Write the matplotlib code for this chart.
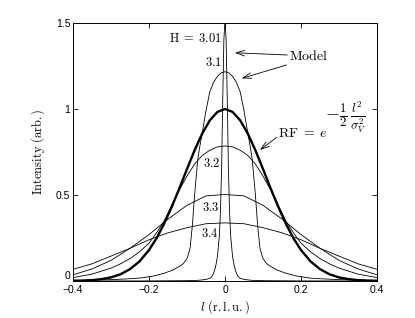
import numpy as np
import matplotlib.pyplot as plt

plt.rcParams['font.family'] = ['Liberation Sans', 'DejaVu Sans']
plt.rcParams['mathtext.fontset'] = 'cm'

# half profiles (l >= 0); every curve is symmetric in l
l_301 = [0, 0.003, 0.006, 0.009, 0.012, 0.015, 0.02, 0.025, 0.03, 0.035, 0.04, 0.05, 0.07, 0.1, 0.2, 0.4]
i_301 = [1.52, 1.40, 1.05, 0.65, 0.40, 0.26, 0.14, 0.08, 0.045, 0.025, 0.016, 0.009, 0.004, 0.002, 0.0005, 0.0]

l_31 = [0, 0.01, 0.02, 0.03, 0.04, 0.05, 0.06, 0.068, 0.072, 0.08, 0.086, 0.092, 0.1, 0.11, 0.12, 0.137, 0.16, 0.19, 0.224, 0.26, 0.3, 0.35, 0.4]
i_31 = [1.217, 1.21, 1.19, 1.155, 1.10, 0.99, 0.86, 0.76, 0.70, 0.50, 0.32, 0.19, 0.13, 0.10, 0.085, 0.064, 0.045, 0.028, 0.017, 0.012, 0.008, 0.006, 0.004]

l_rf = [0, 0.02, 0.04, 0.06, 0.08, 0.1, 0.12, 0.14, 0.16, 0.18, 0.2, 0.225, 0.25, 0.275, 0.3, 0.325, 0.35, 0.375, 0.4]
i_rf = [1.0, 0.983, 0.934, 0.857, 0.760, 0.651, 0.539, 0.432, 0.334, 0.249, 0.180, 0.114, 0.069, 0.039, 0.021, 0.011, 0.005, 0.002, 0.001]

l_32 = [0, 0.02, 0.04, 0.06, 0.08, 0.1, 0.12, 0.14, 0.16, 0.18, 0.2, 0.225, 0.25, 0.275, 0.3, 0.35, 0.4]
i_32 = [0.785, 0.78, 0.76, 0.73, 0.68, 0.61, 0.53, 0.44, 0.35, 0.28, 0.22, 0.17, 0.13, 0.10, 0.075, 0.04, 0.02]

l_33 = [0, 0.05, 0.1, 0.15, 0.2, 0.25, 0.3, 0.35, 0.4]
i_33 = [0.503, 0.495, 0.44, 0.36, 0.27, 0.19, 0.12, 0.07, 0.036]

l_34 = [0, 0.05, 0.1, 0.15, 0.2, 0.25, 0.3, 0.35, 0.4]
i_34 = [0.338, 0.333, 0.31, 0.28, 0.24, 0.19, 0.145, 0.10, 0.068]

x_ticks = [-0.4, -0.2, 0, 0.2, 0.4]
x_tick_labels = ['\u22120.4', '\u22120.2', '0', '0.2', '0.4']
y_ticks = [0, 0.5, 1, 1.5]
y_tick_labels = ['0', '0.5', '1', '1.5']


def mirror(l, i):
    l = np.asarray(l, dtype=float)
    i = np.asarray(i, dtype=float)
    return np.concatenate([-l[:0:-1], l]), np.concatenate([i[:0:-1], i])


fig = plt.figure(figsize=(4.15, 3.18), dpi=100)
ax = fig.add_axes([73 / 415, 37 / 318, 304 / 415, 258 / 318])

for l, i in [(l_301, i_301), (l_31, i_31), (l_32, i_32), (l_33, i_33), (l_34, i_34)]:
    ax.plot(*mirror(l, i), color='black', lw=0.6)
ax.plot(*mirror(l_rf, i_rf), color='black', lw=1.7)

ax.set_xlim(-0.4, 0.4)
ax.set_ylim(0, 1.5)
ax.set_xticks(x_ticks)
ax.set_xticklabels(x_tick_labels)
ax.set_yticks(y_ticks)
ax.set_yticklabels(y_tick_labels)
ax.tick_params(direction='in', top=True, right=True, length=3.5, width=0.6,
               labelsize=7.5, pad=2)
ax.tick_params(axis='x', pad=3)
# the y "0" sits just above the axis line, clear of the "-0.4" below it
ax.get_yticklabels()[0].set_verticalalignment('bottom')
for s in ax.spines.values():
    s.set_linewidth(0.7)

ax.set_xlabel(r'$l\ \mathrm{(r.l.u.)}$', fontsize=9, labelpad=2)
ax.set_ylabel(r'$\mathrm{Intensity\ (arb.)}$', fontsize=9, labelpad=6)

# curve labels
txt = dict(fontsize=9, ha='right', va='center')
ax.text(-0.009, 1.41, r'$\mathrm{H}\;=\;3.01$', **txt)
ax.text(-0.009, 1.27, r'$3.1$', **txt)
ax.text(-0.013, 0.686, r'$3.2$', **txt)
ax.text(-0.015, 0.426, r'$3.3$', **txt)
ax.text(-0.018, 0.279, r'$3.4$', **txt)

arrow = dict(arrowstyle='->,head_length=0.6,head_width=0.2', lw=0.6, color='black',
             shrinkA=0, shrinkB=0)
ax.text(0.168, 1.31, r'$\mathrm{Model}$', fontsize=10, ha='left', va='center')
ax.annotate('', xy=(0.026, 1.327), xytext=(0.164, 1.314), arrowprops=arrow)
ax.annotate('', xy=(0.044, 1.178), xytext=(0.162, 1.256), arrowprops=arrow)

# RF = e^(-1/2 l^2/sigma_V^2), exponent set as its own text so it stays large
ax.text(0.139, 0.86, r'$\mathrm{RF}\;=\;e$', fontsize=10, ha='left', va='center')
ax.text(0.264, 0.95, r'$-\frac{1}{2}\,\frac{l^2}{\sigma_V^2}$',
        fontsize=13, ha='left', va='center')
ax.annotate('', xy=(0.092, 0.762), xytext=(0.136, 0.835), arrowprops=arrow)

fig.savefig('out.png', dpi=100)
